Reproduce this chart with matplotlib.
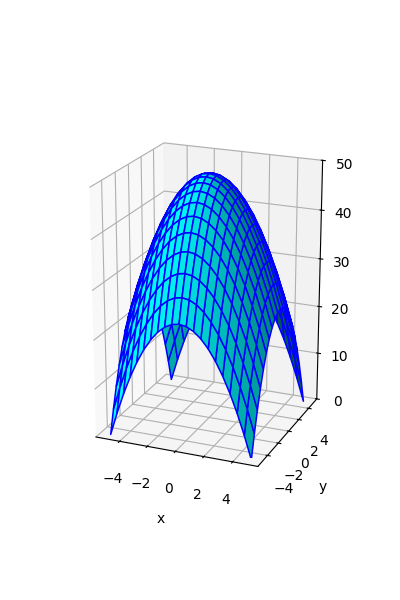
import numpy as np
import matplotlib
matplotlib.use("Agg")
import matplotlib.pyplot as plt

x_values = [-5, -4.5, -4, -3.5, -3, -2.5, -2, -1.5, -1, -0.5, 0, 0.5, 1, 1.5, 2, 2.5, 3, 3.5, 4, 4.5, 5]
y_values = list(x_values)
# heights of one quadrant (x, y from -5 to 0); the surface is mirror-symmetric
z_quadrant = [
    [0, 4.75, 9, 12.75, 16, 18.75, 21, 22.75, 24, 24.75, 25],
    [4.75, 9.5, 13.75, 17.5, 20.75, 23.5, 25.75, 27.5, 28.75, 29.5, 29.75],
    [9, 13.75, 18, 21.75, 25, 27.75, 30, 31.75, 33, 33.75, 34],
    [12.75, 17.5, 21.75, 25.5, 28.75, 31.5, 33.75, 35.5, 36.75, 37.5, 37.75],
    [16, 20.75, 25, 28.75, 32, 34.75, 37, 38.75, 40, 40.75, 41],
    [18.75, 23.5, 27.75, 31.5, 34.75, 37.5, 39.75, 41.5, 42.75, 43.5, 43.75],
    [21, 25.75, 30, 33.75, 37, 39.75, 42, 43.75, 45, 45.75, 46],
    [22.75, 27.5, 31.75, 35.5, 38.75, 41.5, 43.75, 45.5, 46.75, 47.5, 47.75],
    [24, 28.75, 33, 36.75, 40, 42.75, 45, 46.75, 48, 48.75, 49],
    [24.75, 29.5, 33.75, 37.5, 40.75, 43.5, 45.75, 47.5, 48.75, 49.5, 49.75],
    [25, 29.75, 34, 37.75, 41, 43.75, 46, 47.75, 49, 49.75, 50],
]
z_ticks = [0, 10, 20, 30, 40, 50]

q = np.array(z_quadrant)
top = np.hstack([q, q[:, -2::-1]])
Z = np.vstack([top, top[-2::-1]])
X, Y = np.meshgrid(x_values, y_values)

fig = plt.figure(figsize=(4, 6), dpi=100)
ax = fig.add_subplot(111, projection='3d')
ax.plot_surface(X, Y, Z, color='cyan', edgecolor='blue', linewidth=1.1)
ax.set_zlim(0, 50)
ax.set_zticks(z_ticks)
ax.set_xlabel('x')
ax.set_ylabel('y')
ax.set_box_aspect((1, 1, 1.5), zoom=1.12)
ax.view_init(elev=20.5, azim=-67.5)
fig.savefig('out.png', dpi=100)
